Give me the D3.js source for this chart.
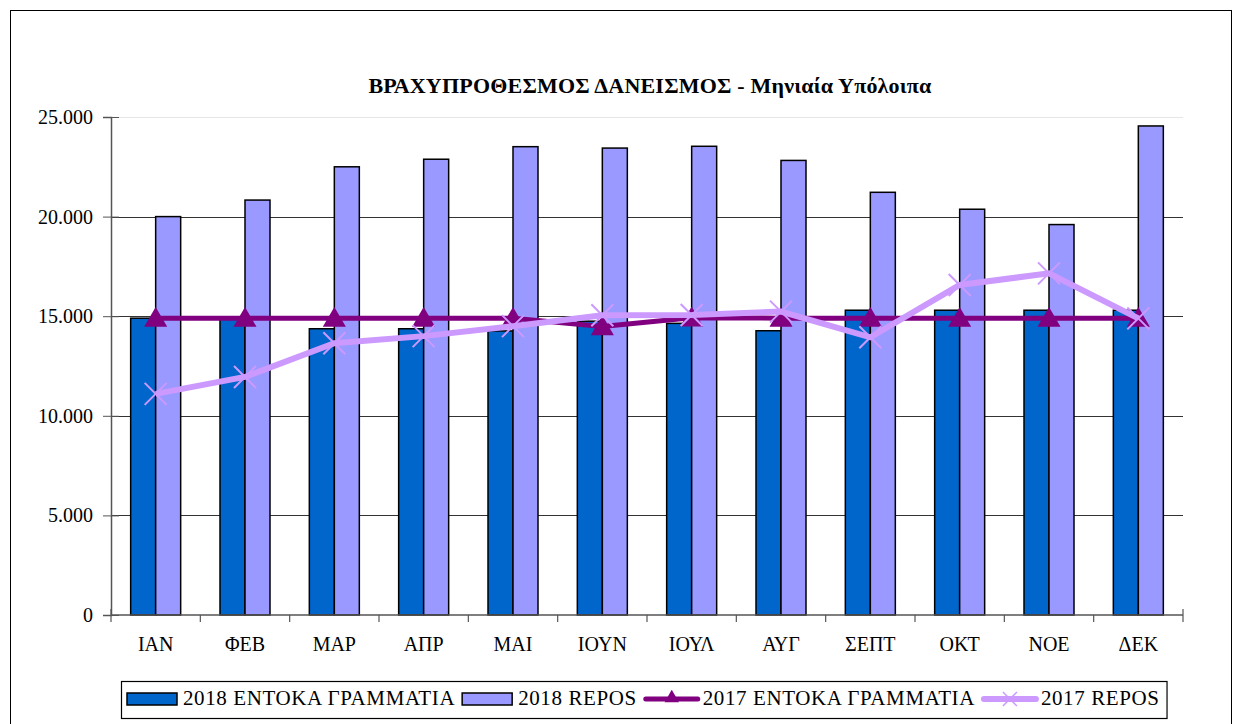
<!DOCTYPE html>
<html>
<head>
<meta charset="utf-8">
<script src="https://cdn.jsdelivr.net/npm/d3@7"></script>
<style>
	body { margin: 0; background: #fff; }
	svg { display: block; }
</style>
</head>
<body>
<svg id="chart" width="1242" height="724"></svg>
<script>
var months = ['ΙΑΝ', 'ΦΕΒ', 'ΜΑΡ', 'ΑΠΡ', 'ΜΑΙ', 'ΙΟΥΝ', 'ΙΟΥΛ', 'ΑΥΓ', 'ΣΕΠΤ', 'ΟΚΤ', 'ΝΟΕ', 'ΔΕΚ'];
var entoka2018 = [14900, 14850, 14370, 14370, 14260, 14750, 14640, 14270, 15300, 15300, 15300, 15300];
var repos2018 = [20000, 20830, 22500, 22880, 23510, 23440, 23530, 22820, 21220, 20370, 19600, 24550];
var entoka2017 = [14900, 14900, 14900, 14900, 14900, 14480, 14920, 14900, 14900, 14900, 14900, 14900];
var repos2017 = [11100, 11950, 13640, 14000, 14500, 15050, 15060, 15230, 13940, 16570, 17150, 14890];
var yTicks = [0, 5000, 10000, 15000, 20000, 25000];
var legendNames = ['2018 ΕΝΤΟΚΑ ΓΡΑΜΜΑΤΙΑ', '2018 REPOS', '2017 ΕΝΤΟΚΑ ΓΡΑΜΜΑΤΙΑ', '2017 REPOS'];

const Chart = {
	left: 111, right: 1183, top: 117, bottom: 615,
	font: 'Liberation Serif, Times New Roman, serif',
	colors: { entoka18: '#0066cc', repos18: '#9999ff', entoka17: '#800080', repos17: '#cc99ff' },

	draw: function() {
		var svg = d3.select('#chart');
		var self = this;

		// outer frame of the chart object
		svg.append('rect')
			.attr('x', 10.5).attr('y', 10.5)
			.attr('width', 1221).attr('height', 730)
			.attr('fill', 'none').attr('stroke', '#000').attr('stroke-width', 1);

		svg.append('text')
			.attr('x', 650).attr('y', 93)
			.attr('text-anchor', 'middle')
			.attr('font-family', self.font)
			.attr('font-size', 22).attr('font-weight', 'bold')
			.style('letter-spacing', '0.2px')
			.text('ΒΡΑΧΥΠΡΟΘΕΣΜΟΣ ΔΑΝΕΙΣΜΟΣ - Μηνιαία Υπόλοιπα');

		var x = d3.scaleBand().domain(months).range([self.left, self.right]);
		var y = d3.scaleLinear().domain([0, 25000]).range([self.bottom, self.top]);
		var barW = 25;

		// grid
		svg.append('g').selectAll('line')
			.data(yTicks.filter(function(t) { return t > 0; }))
			.enter().append('line')
			.attr('x1', self.left).attr('x2', self.right)
			.attr('y1', function(d) { return Math.round(y(d)) + 0.5; })
			.attr('y2', function(d) { return Math.round(y(d)) + 0.5; })
			.attr('stroke', function(d) { return d == 25000 ? '#e6e6e6' : '#333'; })
			.attr('stroke-width', 1);

		// bars
		var bars = svg.append('g');
		bars.selectAll('rect.e18')
			.data(entoka2018)
			.enter().append('rect')
			.attr('class', 'e18')
			.attr('x', function(d, i) { return x(months[i]) + x.bandwidth() / 2 - barW; })
			.attr('y', function(d) { return y(d); })
			.attr('width', barW)
			.attr('height', function(d) { return y(0) - y(d); })
			.attr('fill', self.colors.entoka18).attr('stroke', '#000').attr('stroke-width', 1.5);
		bars.selectAll('rect.r18')
			.data(repos2018)
			.enter().append('rect')
			.attr('class', 'r18')
			.attr('x', function(d, i) { return x(months[i]) + x.bandwidth() / 2; })
			.attr('y', function(d) { return y(d); })
			.attr('width', barW)
			.attr('height', function(d) { return y(0) - y(d); })
			.attr('fill', self.colors.repos18).attr('stroke', '#000').attr('stroke-width', 1.5);

		// axes
		var yAxis = d3.axisLeft(y).tickValues(yTicks).tickSize(8).tickPadding(10)
			.tickFormat(function(d) { return d == 0 ? '0' : d3.format(',')(d).replace(',', '.'); });
		var gy = svg.append('g').attr('transform', 'translate(' + self.left + ',0)').call(yAxis);
		gy.select('.domain').attr('stroke', '#555').attr('stroke-width', 1.5);
		gy.selectAll('.tick line').attr('x2', 8).attr('x1', -8).attr('stroke', '#555');
		gy.selectAll('text')
			.style('font-family', self.font).style('font-size', '20px')
			.attr('fill', '#000');

		var gx = svg.append('g').attr('transform', 'translate(0,' + self.bottom + ')');
		gx.append('line')
			.attr('x1', self.left).attr('x2', self.right)
			.attr('stroke', '#555').attr('stroke-width', 1.5);
		gx.selectAll('line.tk')
			.data(d3.range(months.length + 1))
			.enter().append('line')
			.attr('class', 'tk')
			.attr('x1', function(i) { return self.left + i * x.step(); })
			.attr('x2', function(i) { return self.left + i * x.step(); })
			.attr('y1', function(i) { return i == 0 || i == months.length ? -6 : 0; })
			.attr('y2', 7)
			.attr('stroke', '#555').attr('stroke-width', 1.2);
		gx.selectAll('text')
			.data(months)
			.enter().append('text')
			.attr('x', function(d) { return x(d) + x.bandwidth() / 2; })
			.attr('y', 36)
			.attr('text-anchor', 'middle')
			.style('font-family', self.font).style('font-size', '20px')
			.text(function(d) { return d; });

		// lines
		var cx = function(d, i) { return x(months[i]) + x.bandwidth() / 2; };
		var line = d3.line().x(cx).y(function(d) { return y(d); });

		svg.append('path').datum(entoka2017)
			.attr('d', line).attr('fill', 'none')
			.attr('stroke', self.colors.entoka17).attr('stroke-width', 5);
		svg.append('g').selectAll('path')
			.data(entoka2017)
			.enter().append('path')
			.attr('d', d3.symbol().type(d3.symbolTriangle).size(230))
			.attr('transform', function(d, i) { return 'translate(' + cx(d, i) + ',' + (y(d) + 2) + ')'; })
			.attr('fill', self.colors.entoka17);

		svg.append('path').datum(repos2017)
			.attr('d', line).attr('fill', 'none')
			.attr('stroke', self.colors.repos17).attr('stroke-width', 6);
		svg.append('g').selectAll('path')
			.data(repos2017)
			.enter().append('path')
			.attr('d', 'M-11,-11L11,11M-11,11L11,-11')
			.attr('transform', function(d, i) { return 'translate(' + cx(d, i) + ',' + y(d) + ')'; })
			.attr('stroke', self.colors.repos17).attr('stroke-width', 2);

		self.drawLegend(svg);
	},

	drawLegend: function(svg) {
		var self = this;
		var g = svg.append('g');
		var box = g.append('rect')
			.attr('x', 121.5).attr('y', 681.5).attr('height', 37)
			.attr('fill', '#fff').attr('stroke', '#000').attr('stroke-width', 1.2);
		var cur = 127;
		var midY = 699;

		legendNames.forEach(function(name, i) {
			var textX;
			if (i < 2) {
				g.append('rect')
					.attr('x', cur).attr('y', midY - 6).attr('width', 50).attr('height', 12)
					.attr('fill', i == 0 ? self.colors.entoka18 : self.colors.repos18)
					.attr('stroke', '#000').attr('stroke-width', 1.5);
				textX = cur + 56;
			} else {
				var col = i == 2 ? self.colors.entoka17 : self.colors.repos17;
				g.append('line')
					.attr('x1', cur + 2).attr('x2', cur + 54).attr('y1', midY).attr('y2', midY)
					.attr('stroke', col).attr('stroke-width', i == 2 ? 5 : 6).attr('stroke-linecap', 'round');
				if (i == 2)
					g.append('path')
						.attr('d', d3.symbol().type(d3.symbolTriangle).size(90))
						.attr('transform', 'translate(' + (cur + 28) + ',' + (midY - 1) + ')')
						.attr('fill', col);
				else
					g.append('path')
						.attr('d', 'M-7,-7L7,7M-7,7L7,-7')
						.attr('transform', 'translate(' + (cur + 28) + ',' + midY + ')')
						.attr('stroke', col).attr('stroke-width', 1.5);
				textX = cur + 59;
			}
			var t = g.append('text')
				.attr('x', textX).attr('y', midY + 6)
				.style('font-family', self.font).style('font-size', '21px')
				.style('letter-spacing', '0.6px')
				.text(name);
			cur = textX + t.node().getComputedTextLength() + 7;
		});

		box.attr('width', cur - 121);
	}
}

Chart.draw();
</script>
</body>
</html>
